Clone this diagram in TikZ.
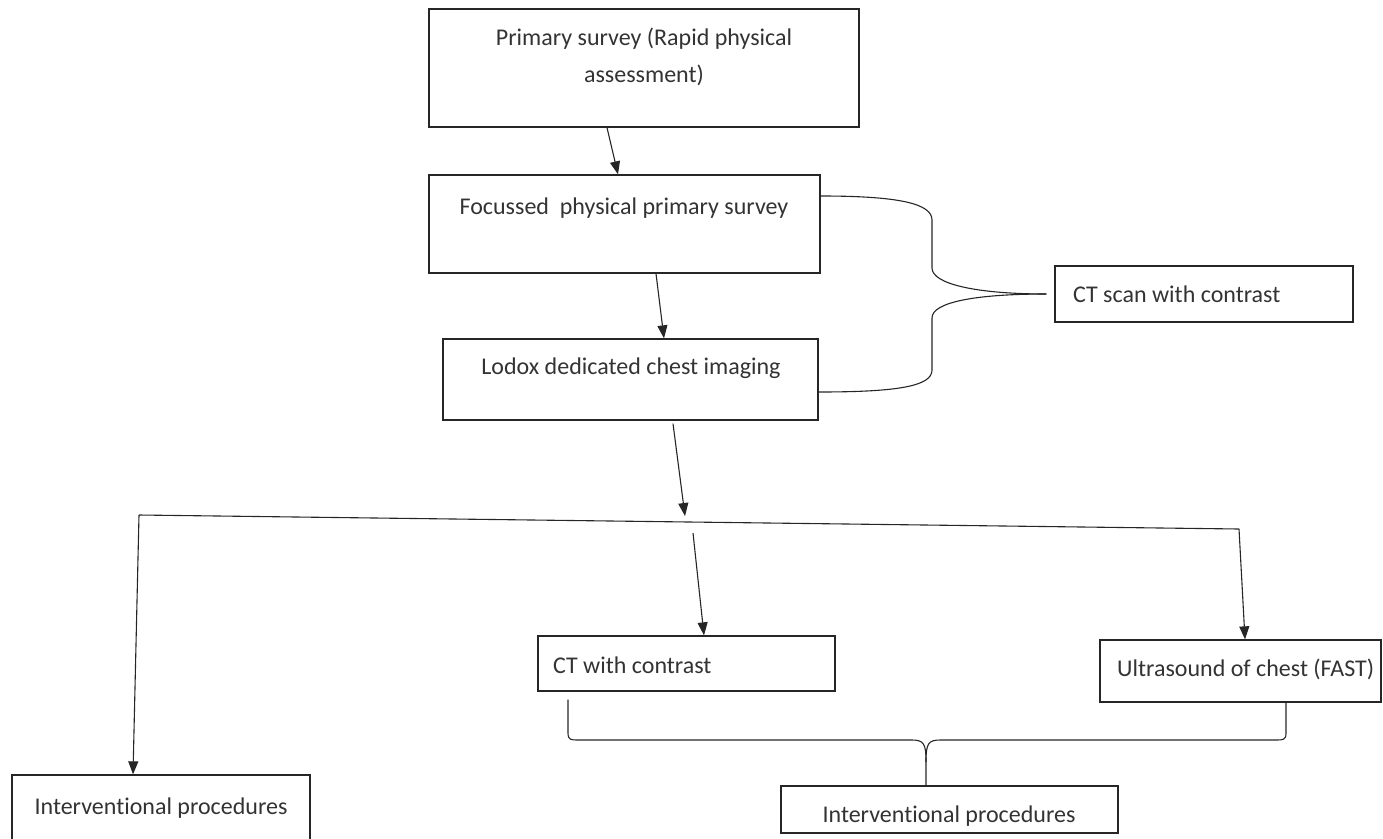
\documentclass[tikz,border=0pt]{standalone}
\usepackage{fontspec}
\setmainfont{Carlito}[Ligatures=NoCommon]
\usetikzlibrary{arrows.meta}
\begin{document}
\begin{tikzpicture}[x=1pt,y=-1pt,
  box/.style={draw=black!85, line width=1.3pt, inner sep=0pt},
  lbl/.style={inner sep=0pt, anchor=base, font=\fontsize{24}{37}\selectfont, text=black!80},
  conn/.style={draw=black!85, line width=1.1pt},
  arr/.style={conn, -{Triangle[length=13pt,width=10pt]}}]
\useasboundingbox (0,0) rectangle (1383,838);
\clip (0,0) rectangle (1383,838);
% boxes
\node[box, minimum width=430pt, minimum height=118pt] (b1) at (644,68) {};
\node[box, minimum width=391pt, minimum height=98pt] (b2) at (624.5,224) {};
\node[box, minimum width=375pt, minimum height=81pt] (b3) at (630.5,379.5) {};
\node[box, minimum width=298pt, minimum height=56pt] (b4) at (1204,294) {};
\node[box, minimum width=297pt, minimum height=55pt] (b5) at (686.5,663.5) {};
\node[box, minimum width=281pt, minimum height=62pt] (b6) at (1240.5,671) {};
\node[box, minimum width=298pt, minimum height=85pt] (b7) at (161,817.5) {};
\node[box, minimum width=337pt, minimum height=47pt] (b8) at (949.5,809.5) {};
% texts
\node[lbl] (t1a) at (644,45) {Primary survey (Rapid physical};
\node[lbl] (t1b) at (644,82) {assessment)};
\node[lbl] (t2) at (624,214) {Focussed\ \ physical primary survey};
\node[lbl] (t3) at (631,374) {Lodox dedicated chest imaging};
\node[lbl, anchor=base west] (t4) at (1073,302) {CT scan with contrast};
\node[lbl, anchor=base west] (t5) at (553,673) {CT with contrast};
\node[lbl, anchor=base west] (t6) at (1117,676) {Ultrasound of chest (FAST)};
\node[lbl] (t7) at (161,814) {Interventional procedures};
\node[lbl] (t8) at (949,822) {Interventional procedures};
% coordinates
\coordinate (busL) at (139,515);
\coordinate (busR) at (1239,529);
\coordinate (busM) at (685,516);
\coordinate (m1) at (693,533);
\coordinate (tip) at ([xshift=-8pt]b4.west);
\coordinate (cusp) at ([xshift=-23.5pt]b8.north);
% arrows
\draw[arr] ([xshift=-37pt]b1.south) -- ([xshift=-6.5pt]b2.north);
\draw[arr] ([xshift=31.5pt]b2.south) -- ([xshift=33.5pt]b3.north);
\draw[arr] ([xshift=42.5pt,yshift=-3pt]b3.south) -- (busM);
\draw[conn] (busL) -- (busR);
\draw[arr] (m1) -- ([xshift=17.5pt]b5.north);
\draw[arr] (busR) -- ([xshift=4.5pt]b6.north);
\draw[arr] (busL) -- ([xshift=-28pt]b7.north);
% right brace
\draw[conn] ([yshift=28pt]b2.east) .. controls +(80,0) and +(0,-16) .. (932,220)
  -- (932,268) .. controls +(0,16) and +(-70,0) .. (tip);
\draw[conn] (tip) .. controls +(-70,0) and +(0,-16) .. (932,318)
  -- (932,370) .. controls +(0,16) and +(80,0) .. ([yshift=-12.5pt]b3.east);
% bottom brace
\draw[conn] ([xshift=-118.5pt,yshift=-8pt]b5.south) -- (568,733)
  .. controls +(0,7) and +(-7,0) .. (578,740) -- (912,740)
  .. controls +(12,0) and +(0,-18) .. (926,762) -- (cusp);
\draw[conn] ([xshift=45.5pt]b6.south) -- (1286,733)
  .. controls +(0,7) and +(7,0) .. (1276,740) -- (940,740)
  .. controls +(-12,0) and +(0,-18) .. (926,762);
\end{tikzpicture}
\end{document}
